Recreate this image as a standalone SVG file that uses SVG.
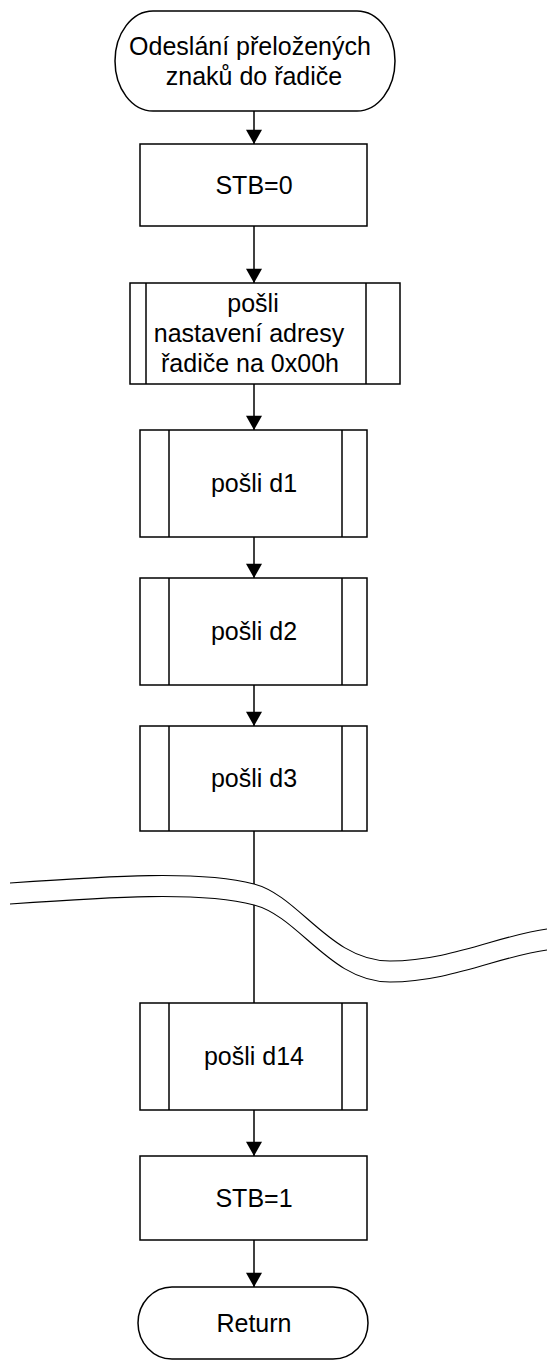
<svg xmlns="http://www.w3.org/2000/svg" width="547" height="1360" viewBox="0 0 547 1360">
  <defs>
    <marker id="arrow" markerWidth="18" markerHeight="16" refX="16" refY="9" orient="auto" markerUnits="userSpaceOnUse" viewBox="0 0 16 18">
      <path d="M0,0 L16,9 L0,18 Z" fill="#000"/>
    </marker>
    <style>
      .shape { fill: #fff; stroke: #000; stroke-width: 1.5; }
      .bar { fill: none; stroke: #000; stroke-width: 1.5; }
      .conn { fill: none; stroke: #000; stroke-width: 1.5; }
      .wave { fill: none; stroke: #000; stroke-width: 1.1; }
      .lbl { font-family: "Liberation Sans", Arial, sans-serif; font-size: 25px; fill: #000; text-anchor: middle; }
    </style>
  </defs>
  <rect width="547" height="1360" fill="#fff"/>

  <!-- connectors -->
  <g id="connectors">
    <line class="conn" x1="254" y1="111" x2="254" y2="144" marker-end="url(#arrow)"/>
    <line class="conn" x1="254" y1="226" x2="254" y2="283" marker-end="url(#arrow)"/>
    <line class="conn" x1="254" y1="384" x2="254" y2="430" marker-end="url(#arrow)"/>
    <line class="conn" x1="254" y1="537" x2="254" y2="578" marker-end="url(#arrow)"/>
    <line class="conn" x1="254" y1="685" x2="254" y2="726" marker-end="url(#arrow)"/>
    <line class="conn" x1="254" y1="831" x2="254" y2="884"/>
    <line class="conn" x1="254" y1="905" x2="254" y2="1003"/>
    <line class="conn" x1="254" y1="1110" x2="254" y2="1156" marker-end="url(#arrow)"/>
    <line class="conn" x1="254" y1="1240" x2="254" y2="1287" marker-end="url(#arrow)"/>
  </g>

  <!-- break marks across the flow -->
  <g id="break">
    <path class="wave" d="M10,883 C110,876 200,870 254,884 C300,896 330,961 390,961 C450,961 500,935 547,929"/>
    <path class="wave" d="M10,904 C110,897 200,891 254,905 C300,917 330,982 390,982 C450,982 500,956 547,950"/>
  </g>

  <g id="start">
    <path class="shape" d="M153,11 H357 A38,50 0 0 1 357,111 H153 A38,50 0 0 1 153,11 Z"/>
    <text class="lbl" x="250" y="55">Odeslání přeložených</text>
    <text class="lbl" x="254" y="85">znaků do řadiče</text>
  </g>

  <g id="stb0">
    <rect class="shape" x="140" y="144" width="227" height="82"/>
    <text class="lbl" x="254" y="194">STB=0</text>
  </g>

  <g id="send-addr">
    <rect class="shape" x="130" y="283" width="270" height="101"/>
    <line class="bar" x1="146" y1="283" x2="146" y2="384"/>
    <line class="bar" x1="366" y1="283" x2="366" y2="384"/>
    <text class="lbl" x="253" y="312">pošli</text>
    <text class="lbl" x="249" y="342">nastavení adresy</text>
    <text class="lbl" x="250" y="372">řadiče na 0x00h</text>
  </g>

  <g id="send-d1">
    <rect class="shape" x="140" y="430" width="227" height="107"/>
    <line class="bar" x1="169" y1="430" x2="169" y2="537"/>
    <line class="bar" x1="342" y1="430" x2="342" y2="537"/>
    <text class="lbl" x="254" y="492">pošli d1</text>
  </g>

  <g id="send-d2">
    <rect class="shape" x="140" y="578" width="227" height="107"/>
    <line class="bar" x1="169" y1="578" x2="169" y2="685"/>
    <line class="bar" x1="342" y1="578" x2="342" y2="685"/>
    <text class="lbl" x="254" y="640">pošli d2</text>
  </g>

  <g id="send-d3">
    <rect class="shape" x="140" y="726" width="227" height="105"/>
    <line class="bar" x1="169" y1="726" x2="169" y2="831"/>
    <line class="bar" x1="342" y1="726" x2="342" y2="831"/>
    <text class="lbl" x="254" y="787">pošli d3</text>
  </g>

  <g id="send-d14">
    <rect class="shape" x="140" y="1003" width="227" height="107"/>
    <line class="bar" x1="169" y1="1003" x2="169" y2="1110"/>
    <line class="bar" x1="342" y1="1003" x2="342" y2="1110"/>
    <text class="lbl" x="254" y="1065">pošli d14</text>
  </g>

  <g id="stb1">
    <rect class="shape" x="140" y="1156" width="227" height="84"/>
    <text class="lbl" x="254" y="1207">STB=1</text>
  </g>

  <g id="return">
    <path class="shape" d="M172,1287 H333 A35,36 0 0 1 333,1359 H172 A34,36 0 0 1 172,1287 Z"/>
    <text class="lbl" x="254" y="1332">Return</text>
  </g>
</svg>
